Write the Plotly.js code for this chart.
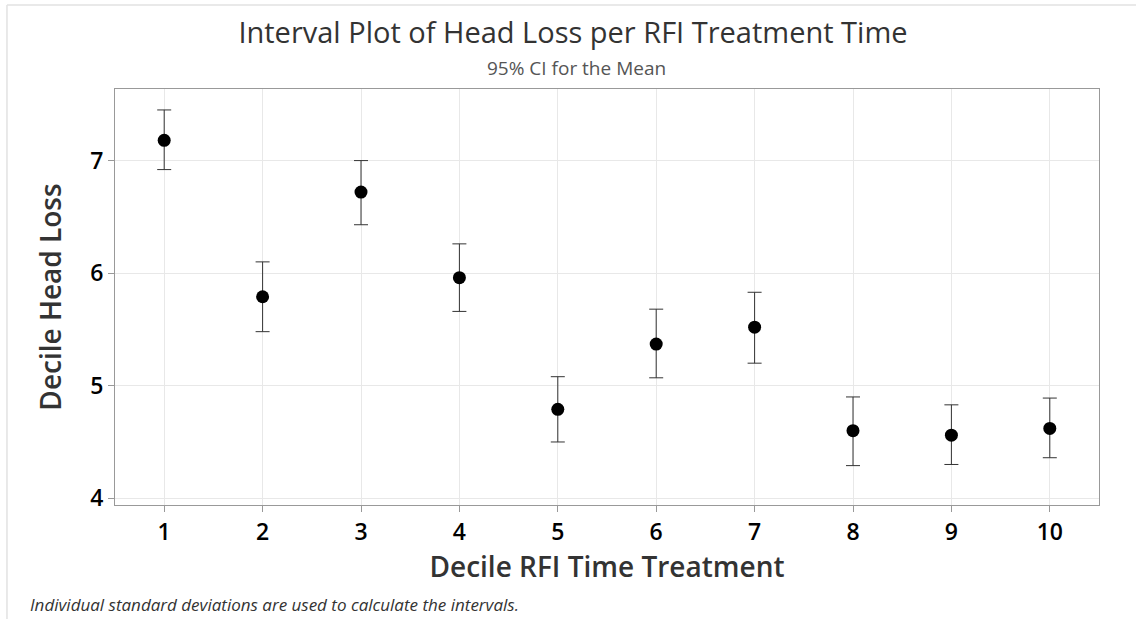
<!DOCTYPE html>
<html>
<head>
<meta charset="utf-8">
<script src="https://cdn.plot.ly/plotly-3.0.1.min.js"></script>
<style>html,body{margin:0;padding:0;background:#fff;}#chart{width:1136px;height:619px;}</style>
</head>
<body>
<div id="chart"></div>
<script>
const deciles = [1, 2, 3, 4, 5, 6, 7, 8, 9, 10];
const means = [7.18, 5.79, 6.72, 5.96, 4.79, 5.37, 5.52, 4.60, 4.56, 4.62];
const upper = [7.45, 6.10, 7.00, 6.26, 5.08, 5.68, 5.83, 4.90, 4.83, 4.89];
const lower = [6.92, 5.48, 6.43, 5.66, 4.50, 5.07, 5.20, 4.29, 4.30, 4.36];
const yTicks = [4, 5, 6, 7];

const errPlus = upper.map((u, i) => u - means[i]);
const errMinus = means.map((m, i) => m - lower[i]);

const FONT = '"Open Sans", "Noto Sans", sans-serif';

const trace = {
  x: deciles,
  y: means,
  type: 'scatter',
  mode: 'markers',
  marker: {color: '#000', size: 13},
  error_y: {
    type: 'data', symmetric: false,
    array: errPlus, arrayminus: errMinus,
    color: '#333', thickness: 1, width: 7
  },
  hoverinfo: 'x+y'
};

const layout = {
  width: 1136, height: 619,
  margin: {l: 115, r: 37, t: 89, b: 114},
  paper_bgcolor: '#fff', plot_bgcolor: '#fff',
  showlegend: false,
  font: {family: FONT, color: '#000'},
  title: {
    text: 'Interval Plot of Head Loss per RFI Treatment Time',
    font: {family: FONT, size: 29, color: '#333', weight: 400},
    x: 0.4654, xanchor: 'center', y: 0.947, yanchor: 'middle', xref: 'paper', yref: 'container'
  },
  xaxis: {
    range: [0.5, 10.5],
    tickvals: deciles,
    ticktext: deciles.map(String),
    ticks: 'outside', ticklen: 6, tickcolor: '#999', tickwidth: 1,
    showgrid: true, gridcolor: '#e8e8e8', gridwidth: 1,
    zeroline: false,
    showline: true, linecolor: '#999', linewidth: 1, mirror: true,
    tickfont: {family: FONT, size: 23, color: '#000', weight: 600},
    title: {text: 'Decile RFI Time Treatment', font: {family: FONT, size: 28, color: '#333', weight: 600}, standoff: 6}
  },
  yaxis: {
    range: [3.94, 7.636],
    tickvals: yTicks,
    ticktext: yTicks.map(String),
    ticks: 'outside', ticklen: 6, tickcolor: '#999', tickwidth: 1,
    showgrid: true, gridcolor: '#e8e8e8', gridwidth: 1,
    zeroline: false,
    showline: true, linecolor: '#999', linewidth: 1, mirror: true,
    tickfont: {family: FONT, size: 23, color: '#000', weight: 600},
    title: {text: 'Decile Head Loss', font: {family: FONT, size: 28, color: '#333', weight: 600}, standoff: 20}
  },
  shapes: [
    {type: 'line', xref: 'paper', yref: 'paper', x0: -0.1098, x1: 1.04, y0: 1.2019, y1: 1.2019, line: {color: '#e2e2e2', width: 1.5}},
    {type: 'line', xref: 'paper', yref: 'paper', x0: -0.1098, x1: -0.1098, y0: 1.2019, y1: -0.28, line: {color: '#e2e2e2', width: 1.5}}
  ],
  annotations: [
    {
      text: '95% CI for the Mean', xref: 'paper', yref: 'paper',
      x: 0.4685, y: 1.0, xanchor: 'center', yanchor: 'bottom', yshift: 6,
      showarrow: false, font: {family: FONT, size: 19, color: '#555'}
    },
    {
      text: '<i>Individual standard deviations are used to calculate the intervals.</i>',
      xref: 'paper', yref: 'paper', x: 0, y: 0, xanchor: 'left', yanchor: 'middle',
      xshift: -87, yshift: -99,
      showarrow: false, font: {family: FONT, size: 17, color: '#333'}
    }
  ]
};

Plotly.newPlot('chart', [trace], layout, {displayModeBar: false, staticPlot: true});
</script>
</body>
</html>
